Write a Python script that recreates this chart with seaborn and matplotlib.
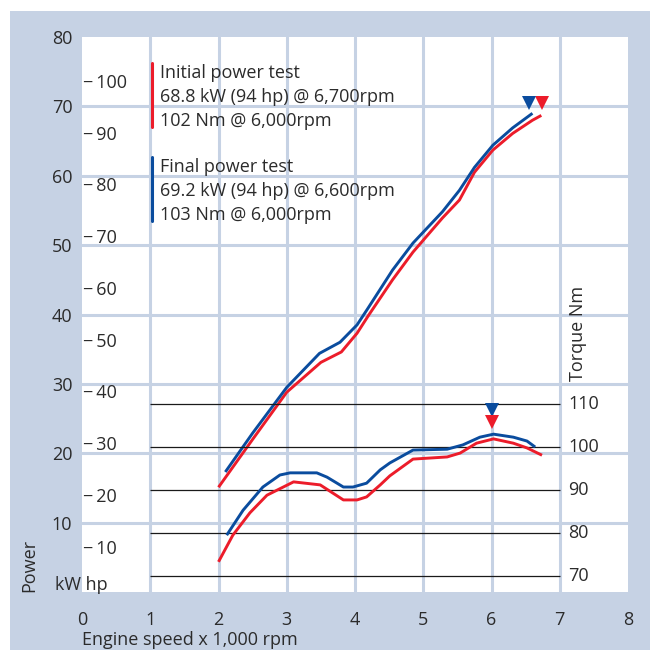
"""
Power and torque curves: initial vs final dyno test.
"""

import matplotlib.pyplot as plt
import seaborn as sns
from matplotlib.patches import Rectangle

sns.set_style("white")
plt.rcParams["font.family"] = ["Open Sans", "DejaVu Sans"]

BG = "#c6d2e4"
TXT = "#2b2b2b"
RED = "#ec1c2a"
BLUE = "#0a4c9e"
FS = 13

# Power (kW) vs engine speed (x 1,000 rpm)
rpm_pow_initial = [2.0, 2.5, 3.0, 3.5, 3.8, 4.03, 4.2, 4.55, 4.85, 5.28, 5.53, 5.75, 6.02, 6.31, 6.6, 6.73]
kw_initial = [15.1, 22.0, 28.8, 33.1, 34.6, 37.3, 39.9, 45.0, 49.0, 53.9, 56.5, 60.5, 63.7, 66.1, 68.0, 68.7]
rpm_pow_final = [2.1, 2.5, 3.0, 3.48, 3.78, 4.03, 4.19, 4.55, 4.85, 5.28, 5.53, 5.75, 6.02, 6.31, 6.6]
kw_final = [17.3, 22.9, 29.5, 34.4, 36.0, 38.5, 40.9, 46.4, 50.3, 54.8, 57.9, 61.2, 64.4, 66.9, 69.0]

# Torque (Nm) vs engine speed
rpm_tq_initial = [2.0, 2.21, 2.46, 2.71, 3.1, 3.49, 3.83, 4.03, 4.17, 4.37, 4.51, 4.85, 5.35, 5.54, 5.78, 6.03, 6.32, 6.52, 6.74]
nm_initial = [73.3, 79.5, 84.7, 88.8, 91.9, 91.2, 87.7, 87.7, 88.4, 91.2, 93.3, 97.2, 97.7, 98.6, 100.9, 101.9, 100.9, 99.8, 98.1]
rpm_tq_final = [2.12, 2.36, 2.65, 2.9, 3.05, 3.44, 3.59, 3.83, 3.97, 4.17, 4.37, 4.51, 4.85, 5.35, 5.58, 5.83, 6.03, 6.32, 6.52, 6.64]
nm_final = [79.5, 85.3, 90.7, 93.5, 94.0, 94.0, 93.0, 90.7, 90.7, 91.6, 94.7, 96.3, 99.3, 99.5, 100.5, 102.3, 103.0, 102.3, 101.4, 100.0]

# Peak markers (rpm, value) - initial then final
peak_pow_rpm = [6.74, 6.55]
peak_pow_kw = [70.5, 70.5]
peak_tq_rpm = [6.0, 6.0]
peak_tq_nm = [105.8, 108.6]

kw_ticks = [10, 20, 30, 40, 50, 60, 70, 80]
hp_ticks = [10, 20, 30, 40, 50, 60, 70, 80, 90, 100]
nm_ticks = [70, 80, 90, 100, 110]
rpm_ticks = [0, 1, 2, 3, 4, 5, 6, 7, 8]

legend_initial = ["Initial power test", "68.8 kW (94 hp) @ 6,700rpm", "102 Nm @ 6,000rpm"]
legend_final = ["Final power test", "69.2 kW (94 hp) @ 6,600rpm", "103 Nm @ 6,000rpm"]

fig = plt.figure(figsize=(6.5, 6.5), dpi=100, facecolor="white")
fig.patches.append(Rectangle((10 / 650, 0), 1, 1 - 11 / 650, transform=fig.transFigure,
                             facecolor=BG, edgecolor="none", zorder=-10))

ax = fig.add_axes([82 / 650, 58 / 650, 546 / 650, 555 / 650])
ax.set_facecolor("white")
ax.set_xlim(0, 8)
ax.set_ylim(0, 80)
for s in ax.spines.values():
    s.set_visible(False)

# grid in the background colour, splitting the white panel into cells
for x in range(1, 8):
    ax.axvline(x, color=BG, lw=2.2, zorder=1)
for y in range(10, 80, 10):
    ax.axhline(y, color=BG, lw=2.2, zorder=1)

ax.set_xticks(rpm_ticks)
ax.set_xticklabels([str(t) for t in rpm_ticks])
ax.set_yticks(kw_ticks)
ax.set_yticklabels([str(t) for t in kw_ticks])
ax.tick_params(length=0, labelsize=FS, labelcolor=TXT)
ax.tick_params(axis="x", pad=14)
ax.tick_params(axis="y", pad=7)

# hp scale drawn inside the panel
for hp in hp_ticks:
    ax.text(0.02, hp * 0.7457 - 1.2, "\u2212\u2009" + str(hp), fontsize=FS, color=TXT,
            ha="left", va="center", zorder=5)

LINE_KW = dict(lw=2.1, zorder=4, solid_joinstyle="round", solid_capstyle="butt")

# power curves
sns.lineplot(x=rpm_pow_initial, y=kw_initial, ax=ax, color=RED, **LINE_KW)
sns.lineplot(x=rpm_pow_final, y=kw_final, ax=ax, color=BLUE, **LINE_KW)
ax.plot(peak_pow_rpm[0], peak_pow_kw[0], "v", color=RED, ms=10, mew=0, zorder=5)
ax.plot(peak_pow_rpm[1], peak_pow_kw[1], "v", color=BLUE, ms=10, mew=0, zorder=5)

# torque on a twin axis, scaled so 70-110 Nm sits in the lower part
ax2 = ax.twinx()
ax2.set_ylim(66.28, 195.4)
ax2.set_yticks([])
for s in ax2.spines.values():
    s.set_visible(False)
ax2.hlines(nm_ticks, 1, 7, color="#1a1a1a", lw=0.9, zorder=2)
for t in nm_ticks:
    ax2.text(7.13, t, str(t), fontsize=FS, color=TXT, ha="left", va="center")
ax2.text(7.27, 126.5, "Torque Nm", fontsize=FS, color=TXT, rotation=90,
         ha="center", va="center")

sns.lineplot(x=rpm_tq_initial, y=nm_initial, ax=ax2, color=RED, **LINE_KW)
sns.lineplot(x=rpm_tq_final, y=nm_final, ax=ax2, color=BLUE, **LINE_KW)
ax2.plot(peak_tq_rpm[1], peak_tq_nm[1], "v", color=BLUE, ms=10, mew=0, zorder=5)
ax2.plot(peak_tq_rpm[0], peak_tq_nm[0], "v", color=RED, ms=10, mew=0, zorder=5)

# legend block with coloured bars
def legend_block(lines, color, y_top):
    fig.add_artist(plt.Line2D([152 / 650, 152 / 650], [1 - y_top / 650, 1 - (y_top + 64) / 650],
                              color=color, lw=2.2, transform=fig.transFigure))
    for i, line in enumerate(lines):
        fig.text(160 / 650, 1 - (y_top + 10 + i * 24) / 650, line, fontsize=FS,
                 color=TXT, ha="left", va="center")

legend_block(legend_initial, RED, 63)
legend_block(legend_final, BLUE, 157)

fig.text(82 / 650, 1 - 640 / 650, "Engine speed x 1,000 rpm", fontsize=FS, color=TXT,
         ha="left", va="center")
fig.text(29 / 650, 1 - 565 / 650, "Power", fontsize=FS, color=TXT, rotation=90,
         ha="center", va="center")
fig.text(55 / 650, 1 - 585 / 650, "kW hp", fontsize=FS, color=TXT, ha="left", va="center")

fig.savefig("out.png", dpi=100, facecolor="white")
